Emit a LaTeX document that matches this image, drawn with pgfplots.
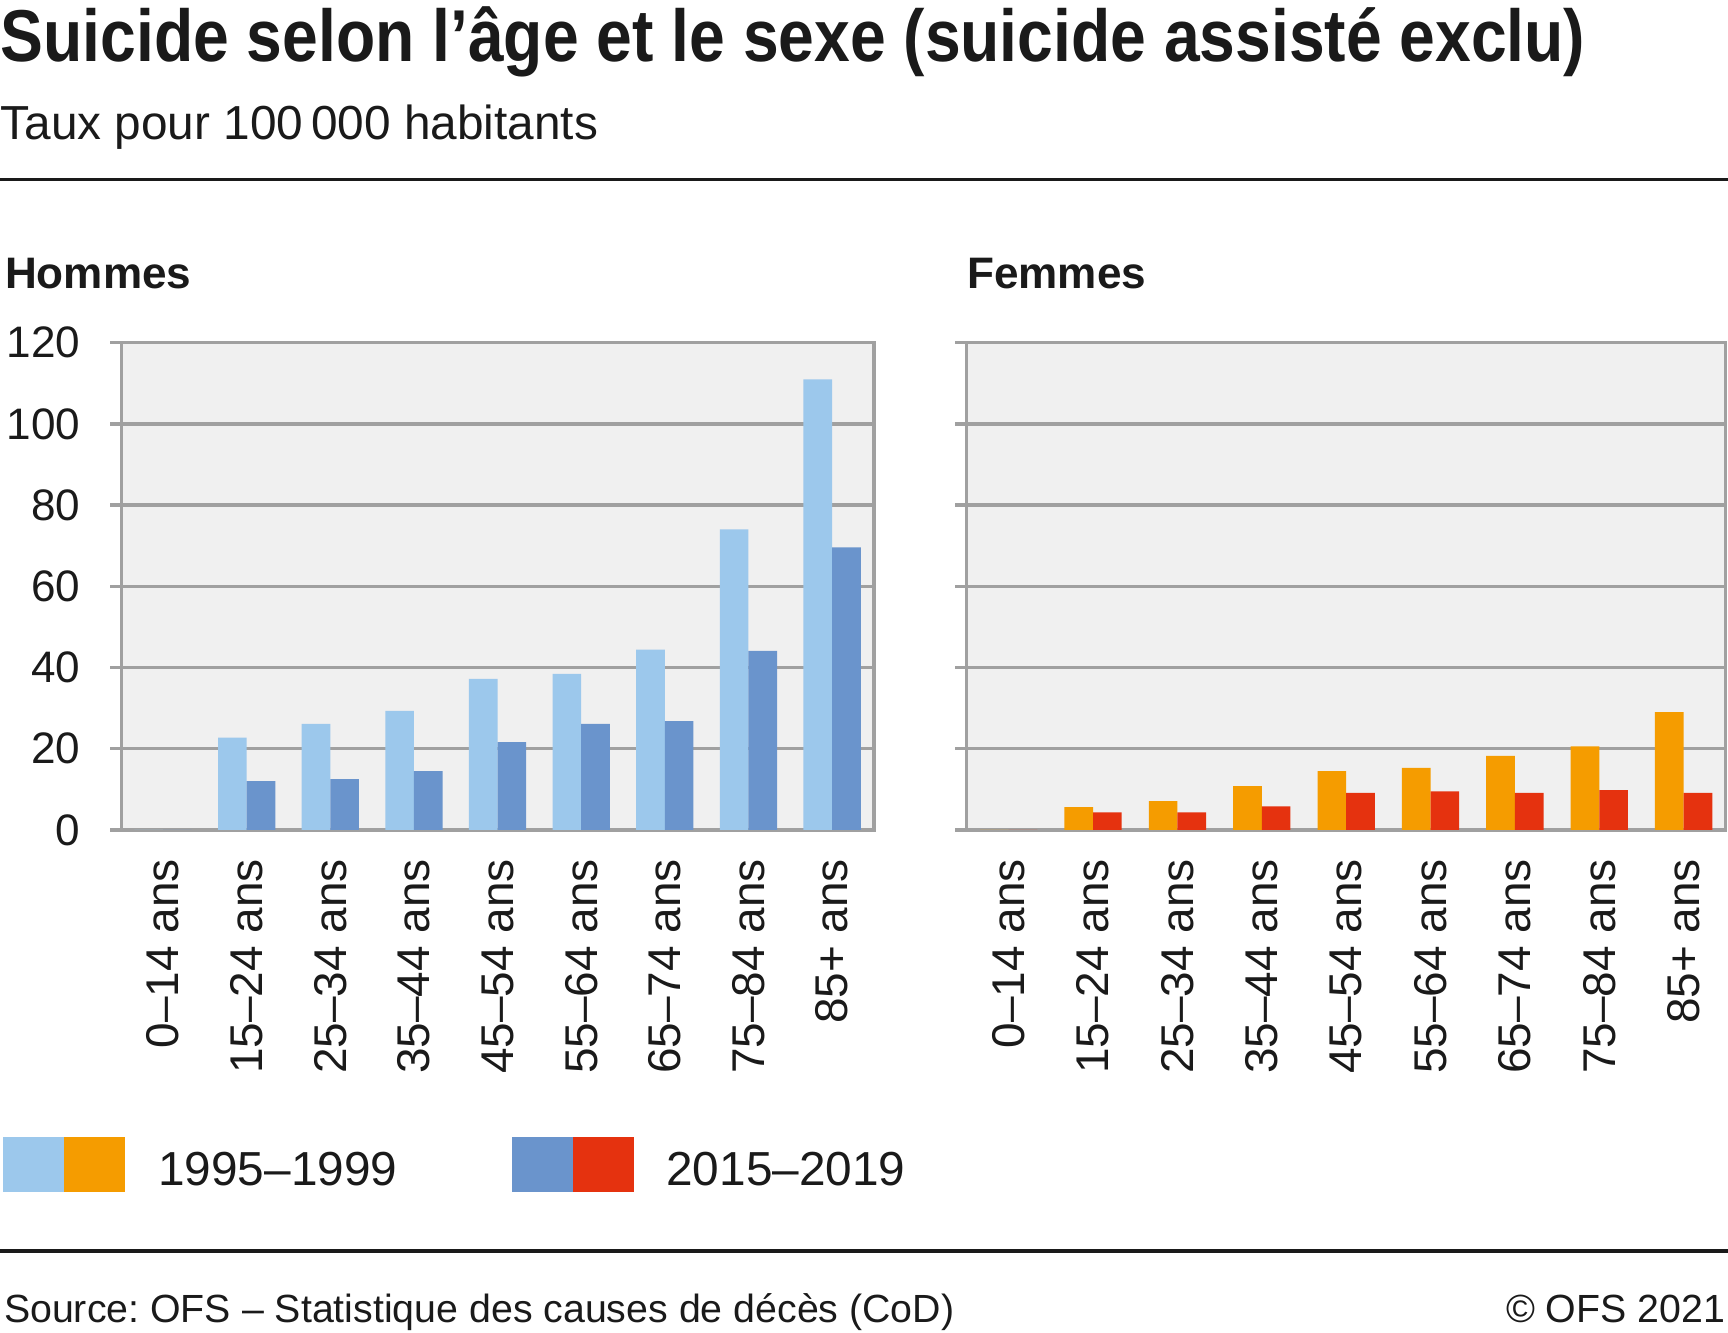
\documentclass[border=0pt]{standalone}
\usepackage{fontspec}
\setmainfont{Liberation Sans}
\usepackage{graphicx}
\usepackage{pgfplots}
\pgfplotsset{compat=1.18}
\usepackage{pgfplotstable}
\frenchspacing

\definecolor{lblue}{HTML}{9CC8EC}
\definecolor{dblue}{HTML}{6A94CC}
\definecolor{orng}{HTML}{F59C00}
\definecolor{rred}{HTML}{E5320F}
\definecolor{bgcol}{HTML}{F0F0F0}
\definecolor{gridcol}{HTML}{A0A0A0}
\definecolor{txt}{HTML}{1A1A1A}

% rates per 100 000 inhabitants
\pgfplotstableread{
x  h95   h15   f95   f15
0  0     0     0     0
1  22.7  12.0  5.6   4.3
2  26.1  12.5  7.1   4.3
3  29.3  14.5  10.8  5.8
4  37.2  21.6  14.5  9.1
5  38.4  26.1  15.3  9.5
6  44.4  26.8  18.2  9.1
7  74.0  44.1  20.6  9.8
8  111.0 69.6  29.0  9.1
}\rates

\pgfplotsset{
  ofs/.style={
    scale only axis, height=132.6pt,
    xmin=-0.5, xmax=8.5, ymin=0, ymax=120,
    ytick={0,20,...,120}, xtick={0,...,8},
    xticklabels={0–14 ans,15–24 ans,25–34 ans,35–44 ans,45–54 ans,55–64 ans,65–74 ans,75–84 ans,85+ ans},
    ymajorgrids, grid style={gridcol, line width=0.9pt},
    axis line style={gridcol, line width=0.9pt},
    axis background/.style={fill=bgcol},
    tick align=outside, ytick pos=left, xtick pos=bottom,
    major tick length=3pt,
    ytick style={gridcol, line width=0.9pt},
    xtick style={draw=none},
    tick label style={text=txt},
    yticklabel style={font=\fontsize{12}{14}\selectfont},
    /pgf/number format/assume math mode=true,
    yticklabel style={inner sep=0pt, xshift=-8pt},
    xticklabel style={font=\fontsize{12.5}{14}\selectfont, inner sep=0pt, yshift=-4.8pt, rotate=90, anchor=east},
    ybar=0pt, bar width=7.8pt,
  }
}

\begin{document}
\begin{tikzpicture}
\path[use as bounding box] (0,0) rectangle (470.4pt,-362.6pt);

\node[anchor=base west, inner sep=0, text=txt] at (0pt,-16.8pt)
  {\scalebox{0.874}[1]{\fontsize{20}{24}\selectfont\bfseries Suicide selon l’âge et le sexe (suicide assisté exclu)}};
\node[anchor=base west, inner sep=0, text=txt] at (0pt,-38.1pt)
  {\fontsize{13}{15}\selectfont Taux pour 100\,000 habitants};
\draw[txt, line width=0.9pt] (0,-48.9pt) -- (470.4pt,-48.9pt);

\node[anchor=base west, inner sep=0, text=txt] at (1.2pt,-78.5pt)
  {\fontsize{12}{14}\selectfont\bfseries Hommes};
\node[anchor=base west, inner sep=0, text=txt] at (263.1pt,-78.5pt)
  {\fontsize{12}{14}\selectfont\bfseries Femmes};

\begin{axis}[ofs, width=204.9pt, at={(33pt,-225.9pt)}, anchor=south west]
  \addplot[fill=lblue, draw=none] table[x=x, y=h95] {\rates};
  \addplot[fill=dblue, draw=none] table[x=x, y=h15] {\rates};
\end{axis}

\begin{axis}[ofs, width=206.7pt, at={(263.1pt,-225.9pt)}, anchor=south west, yticklabels={}]
  \addplot[fill=orng, draw=none] table[x=x, y=f95] {\rates};
  \addplot[fill=rred, draw=none] table[x=x, y=f15] {\rates};
\end{axis}

% legend
\fill[lblue] (0.9pt,-309.6pt) rectangle (17.4pt,-324.6pt);
\fill[orng] (17.4pt,-309.6pt) rectangle (33.9pt,-324.6pt);
\node[anchor=base west, inner sep=0, text=txt] at (42.9pt,-322.8pt)
  {\fontsize{13}{15}\selectfont 1995–1999};
\fill[dblue] (139.5pt,-309.6pt) rectangle (156pt,-324.6pt);
\fill[rred] (156pt,-309.6pt) rectangle (172.5pt,-324.6pt);
\node[anchor=base west, inner sep=0, text=txt] at (181.2pt,-322.8pt)
  {\fontsize{13}{15}\selectfont 2015–2019};

\draw[txt, line width=0.9pt] (0,-340.5pt) -- (470.4pt,-340.5pt);
\node[anchor=base west, inner sep=0, text=txt] at (0.9pt,-360pt)
  {\fontsize{10.7}{12}\selectfont Source: OFS – Statistique des causes de décès (CoD)};
\node[anchor=base east, inner sep=0, text=txt] at (469.8pt,-360pt)
  {\fontsize{10.7}{12}\selectfont © OFS 2021};
\end{tikzpicture}
\end{document}
